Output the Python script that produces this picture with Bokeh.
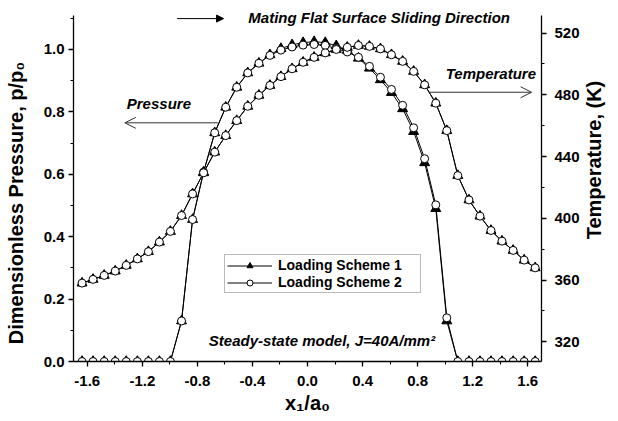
import math
from bokeh.plotting import figure
from bokeh.models import (Range1d, LinearAxis, FixedTicker, PrintfTickFormatter, Label,
                          Arrow, OpenHead, NormalHead, Legend, LegendItem, ColumnDataSource)
from bokeh.embed import file_html
from bokeh.resources import INLINE

# ---------------- data ----------------
x_pos = [-1.638, -1.558, -1.477, -1.397, -1.317, -1.236, -1.156, -1.076, -0.996, -0.915,
         -0.835, -0.755, -0.674, -0.594, -0.514, -0.434, -0.353, -0.273, -0.193, -0.112,
         -0.032, 0.048, 0.129, 0.209, 0.289, 0.370, 0.450, 0.530, 0.610, 0.691,
         0.771, 0.851, 0.932, 1.012, 1.092, 1.173, 1.253, 1.333, 1.413, 1.494,
         1.574, 1.654]

pressure_scheme1 = [0, 0, 0, 0, 0, 0, 0, 0, 0, 0.13,
                    0.455, 0.607, 0.733, 0.815, 0.879, 0.925, 0.956, 0.983, 1.003, 1.015,
                    1.022, 1.025, 1.022, 1.012, 0.997, 0.972, 0.940, 0.903, 0.862, 0.810,
                    0.737, 0.637, 0.490, 0.130, 0, 0, 0, 0, 0, 0,
                    0, 0]
pressure_scheme2 = [0, 0, 0, 0, 0, 0, 0, 0, 0, 0.13,
                    0.455, 0.607, 0.733, 0.815, 0.879, 0.925, 0.956, 0.981, 0.998, 1.008,
                    1.014, 1.016, 1.013, 1.003, 0.992, 0.975, 0.946, 0.911, 0.872, 0.821,
                    0.749, 0.650, 0.502, 0.140, 0, 0, 0, 0, 0, 0,
                    0, 0]
# temperature in K (both schemes coincide)
temperature_scheme1 = [358.0, 360.4, 363.0, 365.8, 369.5, 373.7, 378.4, 384.6, 391.5, 401.8,
                       415.8, 429.5, 442.9, 453.6, 463.3, 472.6, 479.7, 486.1, 491.8, 496.9,
                       501.1, 504.3, 507.2, 509.4, 510.8, 512.0, 511.4, 509.8, 506.0, 501.7,
                       495.2, 486.5, 474.6, 456.8, 427.7, 411.9, 401.4, 392.1, 385.2, 379.2,
                       372.9, 367.9]
temperature_scheme2 = [358.0, 360.4, 363.0, 365.8, 369.5, 373.7, 378.4, 384.6, 391.5, 401.8,
                       415.8, 429.5, 442.9, 453.6, 463.3, 472.6, 479.7, 486.1, 491.8, 496.9,
                       501.1, 504.3, 507.2, 509.4, 510.8, 512.0, 511.4, 509.8, 506.0, 501.7,
                       495.2, 486.5, 474.6, 456.8, 427.7, 411.9, 401.4, 392.1, 385.2, 379.2,
                       372.9, 367.9]

x_ticks = [-1.6, -1.2, -0.8, -0.4, 0.0, 0.4, 0.8, 1.2, 1.6]
x_minor = [-1.6, -1.4, -1.2, -1.0, -0.8, -0.6, -0.4, -0.2, 0.0, 0.2, 0.4, 0.6, 0.8, 1.0, 1.2, 1.4, 1.6]
p_ticks = [0.0, 0.2, 0.4, 0.6, 0.8, 1.0]
p_minor = [0.0, 0.1, 0.2, 0.3, 0.4, 0.5, 0.6, 0.7, 0.8, 0.9, 1.0, 1.1]
t_ticks = [320, 360, 400, 440, 480, 520]
t_minor = [320, 340, 360, 380, 400, 420, 440, 460, 480, 500, 520]

series_labels = ["Loading Scheme 1", "Loading Scheme 2"]
FONT = "Liberation Sans"
NB = "\u00a0"

# ---------------- figure ----------------
p = figure(width=618, height=421, x_range=Range1d(-1.7, 1.7), y_range=Range1d(0, 1.141),
           output_backend="svg", toolbar_location=None,
           min_border_left=73, min_border_right=71, min_border_top=5, min_border_bottom=60)
p.outline_line_color = None
p.xgrid.visible = False
p.ygrid.visible = False
p.background_fill_color = "white"
p.border_fill_color = "white"
p.extra_y_ranges = {"T": Range1d(307.2, 537.9)}
t_axis = LinearAxis(y_range_name="T")
p.add_layout(t_axis, "right")


def style_axis(ax, ticks, minor, fmt, standoff, title, title_standoff):
    ax.ticker = FixedTicker(ticks=ticks, minor_ticks=minor)
    ax.formatter = PrintfTickFormatter(format=fmt)
    ax.axis_line_color = "black"
    ax.axis_line_width = 1.3
    ax.major_tick_line_color = "black"
    ax.major_tick_line_width = 1.3
    ax.major_tick_out = 5
    ax.major_tick_in = 0
    ax.minor_tick_line_color = "black"
    ax.minor_tick_line_width = 1.1
    ax.minor_tick_out = 3
    ax.minor_tick_in = 0
    ax.major_label_text_font = FONT
    ax.major_label_text_font_style = "bold"
    ax.major_label_text_font_size = "15px"
    ax.major_label_text_color = "black"
    ax.major_label_standoff = standoff
    ax.axis_label = title
    ax.axis_label_text_font = FONT
    ax.axis_label_text_font_style = "bold"
    ax.axis_label_text_font_size = "20px"
    ax.axis_label_text_color = "black"
    ax.axis_label_standoff = title_standoff


style_axis(p.xaxis[0], x_ticks, x_minor, "%.1f", 9, "x\u2081/a\u2080", 3)
style_axis(p.yaxis[0], p_ticks, p_minor, "%.1f", 4, "Dimensionless Pressure, p/p\u2080" + NB * 7, 14)
style_axis(t_axis, t_ticks, t_minor, "%d", 8, "Temperature, (K)", 11)
p.yaxis[0].bounds = (0, 1.109)
t_axis.bounds = (307.2, 531.4)
t_props = t_axis.properties()
if "axis_label_orientation" in t_props:
    t_axis.axis_label_orientation = math.pi / 2
    if "axis_label_align" in t_props:
        t_axis.axis_label_align = "start"
        t_axis.axis_label = NB * 22 + "Temperature, (K)"

src = ColumnDataSource(dict(x=x_pos, p1=pressure_scheme1, p2=pressure_scheme2,
                            t1=temperature_scheme1, t2=temperature_scheme2))

# lines
lp1 = p.line("x", "p1", source=src, line_color="black", line_width=1)
lp2 = p.line("x", "p2", source=src, line_color="black", line_width=1)
lt1 = p.line("x", "t1", source=src, line_color="black", line_width=1, y_range_name="T")
lt2 = p.line("x", "t2", source=src, line_color="black", line_width=1, y_range_name="T")
# markers: scheme 1 filled triangles, scheme 2 open circles on top
mp1 = p.scatter("x", "p1", source=src, marker="triangle", size=10, fill_color="black", line_color="black")
mt1 = p.scatter("x", "t1", source=src, marker="triangle", size=10, fill_color="black", line_color="black",
                y_range_name="T")
mp2 = p.scatter("x", "p2", source=src, marker="circle", size=8, fill_color="white", line_color="black",
                line_width=1)
mt2 = p.scatter("x", "t2", source=src, marker="circle", size=8, fill_color="white", line_color="black",
                line_width=1, y_range_name="T")

legend = Legend(items=[LegendItem(label=series_labels[0], renderers=[lp1, mp1]),
                       LegendItem(label=series_labels[1], renderers=[lp2, mp2])],
                location=(151, 68))
legend.label_text_font = FONT
legend.label_text_font_style = "bold"
legend.label_text_font_size = "14px"
legend.label_text_color = "black"
legend.glyph_width = 45
legend.glyph_height = 15
legend.label_height = 15
legend.label_width = 140
legend.label_standoff = 6
legend.padding = 2
legend.spacing = 1
legend.margin = 0
legend.border_line_color = "#777777"
legend.border_line_width = 1
legend.background_fill_color = "white"
legend.background_fill_alpha = 1
p.add_layout(legend, "center")


# ---------------- annotations ----------------
def lab(text, x, y, size="15px"):
    p.add_layout(Label(text=text, x=x, y=y, text_font=FONT, text_font_size=size,
                       text_font_style="bold italic", text_color="black", text_align="left",
                       text_baseline="middle"))


lab("Mating Flat Surface Sliding Direction", -0.430, 1.103)
lab("Pressure", -1.313, 0.827)
lab("Temperature", 1.004, 0.922)
lab("Steady-state model, J=40A/mm\u00b2", -0.717, 0.067)

p.add_layout(Arrow(end=NormalHead(size=7, fill_color="black", line_color="black"),
                   x_start=-0.947, y_start=1.099, x_end=-0.61, y_end=1.099,
                   line_color="black", line_width=1))
p.add_layout(Arrow(end=OpenHead(size=11, line_color="#333333", line_width=1),
                   x_start=-0.651, y_start=0.765, x_end=-1.327, y_end=0.765,
                   line_color="#333333", line_width=1))
p.add_layout(Arrow(end=OpenHead(size=11, line_color="#333333", line_width=1),
                   x_start=0.882, y_start=0.863, x_end=1.628, y_end=0.863,
                   line_color="#333333", line_width=1))

open("out.html", "w").write(file_html(p, INLINE))
